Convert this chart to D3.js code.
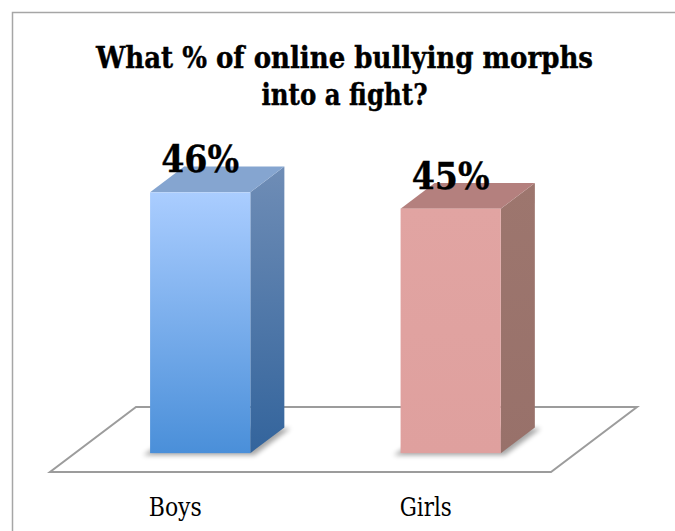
<!DOCTYPE html>
<html>
<head>
<meta charset="utf-8">
<script src="https://cdn.jsdelivr.net/npm/d3@7"></script>
<style>
  html, body { margin: 0; padding: 0; background: #fff; }
  svg { display: block; }
  .serif { font-family: "DejaVu Serif Condensed", "DejaVu Serif", serif; font-stretch: condensed; }
</style>
</head>
<body>
<div id="chart"></div>
<script>
// ---- data ----
const titleLines = ["What % of online bullying morphs", "into a fight?"];
const categories = ["Boys", "Girls"];
const values = [46, 45];
const valueLabels = ["46%", "45%"];
const valueDomain = [30, 47];

// ---- layout ----
const W = 675, H = 531;
const floorFrontY = 472, floorLeft = 50, floorRight = 551;
const depth = { dx: 86, dy: -65 };      // floor depth vector (front -> back)
const barFront = 0.29, barBack = 0.686;  // depth fractions of bar faces
const pxPerUnit = 16.3;

const svg = d3.select("#chart").append("svg").attr("width", W).attr("height", H);
const defs = svg.append("defs");

// gradients
function vgrad(id, c0, c1) {
  const g = defs.append("linearGradient").attr("id", id)
    .attr("x1", 0).attr("y1", 0).attr("x2", 0).attr("y2", 1);
  g.append("stop").attr("offset", "0%").attr("stop-color", c0);
  g.append("stop").attr("offset", "100%").attr("stop-color", c1);
}
vgrad("boysFront", "#aacdff", "#4a8fd9");
vgrad("boysSide", "#6f8db6", "#33649c");
vgrad("girlsFront", "#e1a4a2", "#dfa09e");
vgrad("girlsSide", "#9d766e", "#98716a");
defs.append("filter").attr("id", "blur").attr("x", "-20%").attr("y", "-50%").attr("width", "140%").attr("height", "200%")
  .append("feGaussianBlur").attr("stdDeviation", 2.5);

const palette = [
  { front: "url(#boysFront)", side: "url(#boysSide)", top: "#85a5d0" },
  { front: "url(#girlsFront)", side: "url(#girlsSide)", top: "#b4807e" }
];

// frame (right and bottom edges fall outside the picture)
svg.append("rect").attr("x", 12.5).attr("y", 12.5).attr("width", 700).attr("height", 600)
  .attr("fill", "none").attr("stroke", "#a6a6a6").attr("stroke-width", 1.5);

// title
const title = svg.append("text").attr("class", "serif")
  .attr("text-anchor", "middle").attr("font-weight", "bold").attr("font-size", 30)
  .attr("fill", "#000").attr("stroke", "#000").attr("stroke-width", 0.4);
title.selectAll("tspan").data(titleLines).join("tspan")
  .attr("x", 344.5).attr("y", (d, i) => 67.7 + i * 37.5)
  .attr("textLength", (d, i) => i === 0 ? 497 : 166)
  .attr("lengthAdjust", "spacingAndGlyphs")
  .text(d => d);

// scales
const x = d3.scaleBand().domain(categories).range([floorLeft, floorRight])
  .paddingInner(0.6).paddingOuter(0.3);
const xc = d3.scaleBand().domain(categories).range([floorLeft, floorRight]).padding(0);
const baseY = floorFrontY + barFront * depth.dy;
const y = d3.scaleLinear().domain(valueDomain)
  .range([baseY, baseY - (valueDomain[1] - valueDomain[0]) * pxPerUnit]);

// floor
const floorPts = [
  [floorLeft, floorFrontY],
  [floorRight, floorFrontY],
  [floorRight + depth.dx, floorFrontY + depth.dy],
  [floorLeft + depth.dx, floorFrontY + depth.dy]
];
svg.append("polygon").attr("points", floorPts.map(p => p.join(",")).join(" "))
  .attr("fill", "#fff").attr("stroke", "#9c9c9c").attr("stroke-width", 2)
  .attr("stroke-linejoin", "miter");

// bars
const fx = barFront * depth.dx, fy = barFront * depth.dy;
const bx = barBack * depth.dx, by = barBack * depth.dy;
const ddx = bx - fx, ddy = by - fy;

const bars = svg.append("g").selectAll("g").data(categories).join("g");

bars.each(function (c, i) {
  const g = d3.select(this);
  const x0 = x(c) + fx, x1 = x0 + x.bandwidth();
  const yb = y(valueDomain[0]), yt = y(values[i]);
  const col = palette[i];
  // shadow on floor
  g.append("polygon")
    .attr("points", [[x0 - 7, yb + 2], [x1 + 4, yb + 2], [x1 + ddx + 6, yb + ddy + 1], [x0 + ddx, yb + ddy]].map(p => p.join(",")).join(" "))
    .attr("fill", "#000").attr("opacity", 0.35).attr("filter", "url(#blur)");
  // side face
  g.append("polygon")
    .attr("points", [[x1, yb], [x1 + ddx, yb + ddy], [x1 + ddx, yt + ddy], [x1, yt]].map(p => p.join(",")).join(" "))
    .attr("fill", col.side);
  // top face
  g.append("polygon")
    .attr("points", [[x0, yt], [x1, yt], [x1 + ddx, yt + ddy], [x0 + ddx, yt + ddy]].map(p => p.join(",")).join(" "))
    .attr("fill", col.top);
  // front face
  g.append("rect").attr("x", x0).attr("y", yt).attr("width", x1 - x0).attr("height", yb - yt)
    .attr("fill", col.front);
  // value label
  g.append("text").attr("class", "serif")
    .attr("x", (x0 + x1) / 2).attr("y", yt - 20)
    .attr("text-anchor", "middle").attr("font-weight", "bold").attr("font-size", 37)
    .attr("textLength", 78).attr("lengthAdjust", "spacingAndGlyphs")
    .attr("fill", "#000").attr("stroke", "#000").attr("stroke-width", 0.3)
    .text(valueLabels[i]);
});

// category axis labels
svg.append("g").selectAll("text").data(categories).join("text")
  .attr("class", "serif")
  .attr("x", d => xc(d) + xc.bandwidth() / 2)
  .attr("y", floorFrontY + 44)
  .attr("text-anchor", "middle").attr("font-size", 26).attr("fill", "#000")
  .attr("textLength", (d, i) => i === 0 ? 53 : 52).attr("lengthAdjust", "spacingAndGlyphs")
  .text(d => d);
</script>
</body>
</html>
